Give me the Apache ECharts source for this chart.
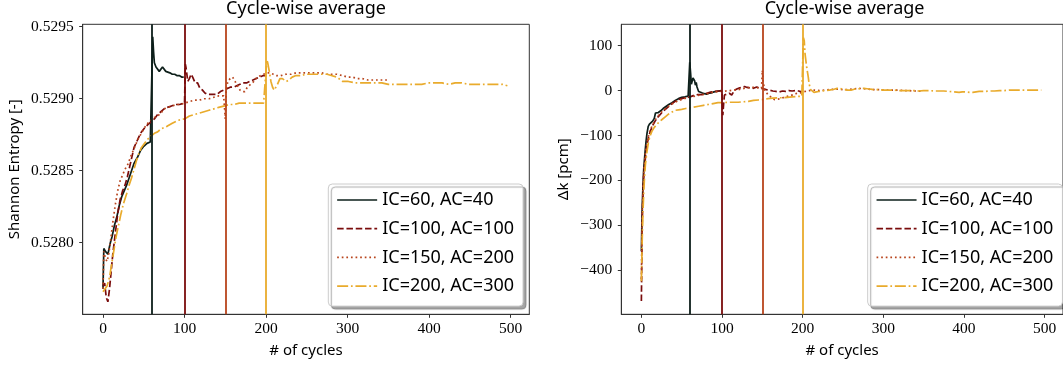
<!DOCTYPE html>
<html><head><meta charset="utf-8">
<script src="https://cdn.jsdelivr.net/npm/echarts@6/dist/echarts.min.js"></script>
<style>html,body{margin:0;padding:0;background:#fff}#c{width:1063px;height:368px}</style>
</head><body><div id="c"></div>
<script>
// ---- data ----
const seriesNames = ['IC=60, AC=40','IC=100, AC=100','IC=150, AC=200','IC=200, AC=300'];
const inactiveCycles = [60, 100, 150, 200];
const xTicks = [0, 100, 200, 300, 400, 500];
const entropyTicks = [0.5280, 0.5285, 0.5290, 0.5295];
const dkTicks = [-400, -300, -200, -100, 0, 100];

const entropy_IC60 = [[0,0.52768],[1,0.52796],[3,0.52794],[6,0.52792],[9,0.52800],[11,0.52804],[14,0.52812],[17,0.52818],[20,0.52826],[23,0.52832],[26,0.52836],[29,0.52840],[32,0.52845],[35,0.52850],[38,0.52855],[42,0.52859],[46,0.52864],[50,0.52867],[54,0.52869],[58,0.52870],[60,0.52871],[61,0.52943],[62,0.52933],[63,0.52925],[65,0.52922],[67,0.52921],[69,0.52919],[71,0.52920],[73,0.52922],[75,0.52921],[77,0.52919],[79,0.52918],[82,0.52918],[85,0.52917],[88,0.52917],[91,0.52916],[94,0.52916],[97,0.52915],[99,0.52915]];
const entropy_IC100 = [[0,0.52770],[2,0.52772],[4,0.52762],[6,0.52759],[8,0.52768],[10,0.52780],[12,0.52792],[15,0.52806],[18,0.52820],[21,0.52830],[24,0.52836],[27,0.52840],[30,0.52846],[34,0.52856],[38,0.52866],[42,0.52871],[46,0.52876],[50,0.52879],[55,0.52882],[59,0.52884],[63,0.52886],[67,0.52889],[71,0.52891],[75,0.52893],[79,0.52894],[84,0.52895],[89,0.52896],[94,0.52896],[100,0.52897],[101,0.52924],[102,0.52921],[104,0.52912],[106,0.52914],[108,0.52917],[110,0.52915],[113,0.52911],[116,0.52911],[119,0.52907],[122,0.52906],[125,0.52904],[128,0.52903],[132,0.52903],[136,0.52903],[140,0.52903],[144,0.52905],[148,0.52906],[152,0.52907],[156,0.52908],[160,0.52908],[164,0.52909],[168,0.52910],[172,0.52911],[176,0.52911],[180,0.52912],[184,0.52913],[188,0.52914],[192,0.52915],[196,0.52916],[199,0.52916]];
const entropy_IC150 = [[0,0.52768],[1,0.52794],[3,0.52789],[5,0.52787],[7,0.52792],[9,0.52800],[12,0.52814],[15,0.52826],[18,0.52836],[21,0.52843],[24,0.52847],[27,0.52851],[31,0.52855],[34,0.52860],[37,0.52864],[40,0.52868],[43,0.52872],[47,0.52876],[51,0.52880],[55,0.52883],[59,0.52885],[63,0.52887],[67,0.52888],[71,0.52890],[75,0.52893],[80,0.52894],[85,0.52895],[90,0.52896],[95,0.52896],[100,0.52897],[106,0.52898],[112,0.52899],[118,0.52899],[124,0.52900],[130,0.52900],[136,0.52901],[142,0.52902],[148,0.52902],[150,0.52886],[151,0.52905],[153,0.52912],[156,0.52914],[159,0.52915],[162,0.52912],[165,0.52909],[168,0.52906],[171,0.52905],[174,0.52905],[177,0.52908],[181,0.52910],[185,0.52912],[189,0.52915],[193,0.52916],[197,0.52917],[201,0.52918],[205,0.52918],[209,0.52917],[213,0.52916],[218,0.52916],[224,0.52917],[231,0.52917],[237,0.52918],[244,0.52918],[250,0.52918],[256,0.52918],[262,0.52918],[268,0.52918],[274,0.52917],[281,0.52917],[287,0.52917],[294,0.52916],[300,0.52915],[306,0.52915],[312,0.52914],[318,0.52914],[325,0.52913],[331,0.52913],[338,0.52913],[344,0.52913],[349,0.52913]];
const entropy_IC200 = [[0,0.52766],[2,0.52767],[5,0.52770],[8,0.52776],[10,0.52783],[12,0.52790],[14,0.52797],[16,0.52804],[19,0.52812],[22,0.52820],[25,0.52827],[29,0.52834],[32,0.52840],[35,0.52845],[38,0.52851],[41,0.52857],[44,0.52862],[47,0.52866],[51,0.52869],[55,0.52872],[59,0.52874],[63,0.52876],[67,0.52877],[71,0.52879],[75,0.52880],[79,0.52881],[85,0.52883],[92,0.52885],[100,0.52886],[106,0.52888],[112,0.52889],[118,0.52890],[124,0.52891],[130,0.52892],[136,0.52893],[142,0.52894],[149,0.52895],[155,0.52896],[161,0.52896],[167,0.52897],[173,0.52897],[179,0.52897],[185,0.52897],[191,0.52897],[197,0.52897],[199,0.52897],[200,0.52920],[201,0.52927],[202,0.52925],[204,0.52919],[206,0.52912],[208,0.52908],[210,0.52906],[212,0.52907],[214,0.52910],[217,0.52914],[220,0.52914],[222,0.52913],[225,0.52912],[228,0.52913],[232,0.52915],[236,0.52916],[240,0.52916],[244,0.52916],[248,0.52917],[252,0.52917],[256,0.52917],[262,0.52917],[268,0.52917],[275,0.52917],[281,0.52916],[287,0.52915],[294,0.52912],[301,0.52912],[309,0.52911],[317,0.52911],[325,0.52911],[334,0.52911],[342,0.52911],[350,0.52910],[358,0.52910],[366,0.52910],[375,0.52910],[383,0.52910],[391,0.52910],[399,0.52911],[408,0.52911],[416,0.52911],[424,0.52910],[432,0.52911],[440,0.52911],[449,0.52910],[457,0.52910],[465,0.52910],[473,0.52910],[481,0.52910],[490,0.52910],[496,0.52909]];

const dk_IC60 = [[0,-358],[1,-261],[2,-210],[3,-172],[4,-150],[5,-128],[6,-110],[7,-95],[8.5,-80],[10,-75],[12,-72],[14,-68],[16,-62],[17.5,-50],[19,-53],[21,-49],[24,-45],[27,-40],[30,-36],[34,-31],[38,-27],[42,-22],[46,-18],[50,-15],[54,-14],[58,-12],[59.5,-11],[60,63],[61,40],[62,14],[63,18],[64,28],[65,32],[66,22],[67,12],[68,18],[69,8],[71,-2],[73,-4],[75,-5],[78,-7],[81,-8],[84,-6],[87,-5],[90,-3],[93,-2],[96,-1],[99,0]];
const dk_IC100 = [[0,-469],[1,-298],[2,-230],[3,-187],[5,-150],[7,-120],[9,-103],[11,-91],[14,-78],[17,-68],[21,-58],[25,-50],[29,-43],[34,-35],[38,-29],[42,-24],[46,-20],[50,-18],[54,-16],[58,-15],[62,-13],[66,-10],[70,-9],[75,-9],[79,-7],[83,-5],[87,-3],[91,-2],[95,-1],[99,-1],[100,-8],[101,-55],[102,-30],[103,-10],[106,-8],[109,-6],[112,-10],[114,-4],[116,1],[119,4],[122,6],[125,8],[128,9],[131,7],[135,6],[139,5],[143,8],[147,5],[151,4],[155,2],[159,1],[163,-1],[167,-2],[171,-3],[175,-1],[179,-2],[183,0],[187,-1],[191,0],[195,-1],[199,-3]];
const dk_IC150 = [[0,-420],[1,-280],[2,-220],[3,-180],[5,-140],[7,-115],[9,-100],[11,-88],[14,-76],[17,-66],[21,-56],[25,-48],[30,-40],[35,-33],[40,-28],[45,-23],[50,-20],[55,-17],[60,-15],[65,-13],[70,-11],[75,-9],[80,-8],[85,-5],[90,-4],[95,-2],[100,-2],[105,-1],[110,0],[115,1],[120,2],[125,4],[130,6],[135,7],[140,7],[145,6],[149,5],[150,45],[151,20],[153,0],[157,-9],[161,-15],[165,-20],[169,-19],[173,-18],[177,-15],[181,-13],[185,-11],[189,-9],[193,-6],[197,-5],[201,-3],[205,-1],[209,0],[215,1],[221,0],[227,1],[233,2],[239,3],[245,3],[251,2],[257,2],[264,4],[270,5],[276,4],[282,3],[288,2],[295,2],[301,1],[307,1],[313,1],[319,1],[325,0],[331,0],[337,-1],[343,-1],[349,-2]];
const dk_IC200 = [[0,-425],[1,-335],[2,-270],[3,-224],[4,-190],[5,-165],[7,-135],[9,-113],[11,-100],[13,-91],[16,-82],[19,-76],[22,-70],[26,-64],[30,-58],[34,-52],[38,-48],[42,-44],[46,-43],[50,-42],[55,-40],[59,-39],[65,-37],[71,-35],[77,-33],[83,-31],[89,-29],[95,-27],[101,-27],[108,-26],[114,-26],[120,-26],[126,-25],[133,-24],[139,-22],[145,-21],[151,-20],[157,-18],[163,-17],[169,-16],[175,-16],[181,-15],[187,-14],[194,-13],[199,-13],[200,60],[201,118],[202,111],[203,82],[205,52],[207,30],[208,15],[210,2],[212,-2],[214,-4],[217,-3],[220,-2],[224,-1],[228,0],[233,1],[239,3],[245,6],[248,4],[252,2],[256,1],[260,1],[264,3],[268,3],[272,5],[276,5],[280,4],[284,3],[290,2],[295,2],[301,1],[307,1],[313,1],[319,0],[325,0],[332,0],[338,0],[344,-1],[350,0],[357,0],[363,-1],[369,-1],[375,-1],[382,-2],[388,-3],[394,-4],[398,-3],[402,-3],[407,-4],[411,-4],[415,-3],[419,-2],[425,-2],[432,-1],[438,-1],[444,0],[450,0],[456,1],[463,1],[469,1],[475,1],[481,1],[487,1],[494,1],[496,1]];

const entropyData = [entropy_IC60, entropy_IC100, entropy_IC150, entropy_IC200];
const dkData = [dk_IC60, dk_IC100, dk_IC150, dk_IC200];

// ---- styles ----
const colors = ['#0d1f1a', '#7a0c0c', '#b8441c', '#e9ab2c'];
const dashes = ['solid', [6.5, 2.8], [1.7, 2.9], [11, 2.8, 1.7, 2.8]];
const SANS = 'Noto Sans';
const SERIF = 'Liberation Serif';
const AX = '#333';

const chart = echarts.init(document.getElementById('c'), null, {renderer: 'canvas'});

function xAxisOpt(gi) {
  return {
    type: 'value', gridIndex: gi, min: -24.9, max: 522.9,
    name: '# of cycles', nameLocation: 'middle', nameGap: 29,
    nameTextStyle: {fontFamily: SANS, fontSize: 15, color: '#000'},
    axisLine: {show: true, onZero: false, lineStyle: {color: AX, width: 1}},
    axisTick: {show: true, length: 3.5, customValues: xTicks, lineStyle: {color: AX}},
    axisLabel: {customValues: xTicks, fontFamily: SERIF, fontSize: 15.5, color: '#000', margin: 7},
    splitLine: {show: false}
  };
}
function yAxisOpt(gi, min, max, ticks, name, gap, fmt) {
  return {
    type: 'value', gridIndex: gi, min: min, max: max,
    name: name, nameLocation: 'middle', nameGap: gap,
    nameTextStyle: {fontFamily: SANS, fontSize: 15, color: '#000'},
    axisLine: {show: true, onZero: false, lineStyle: {color: AX, width: 1}},
    axisTick: {show: true, length: 3.5, customValues: ticks, lineStyle: {color: AX}},
    axisLabel: {customValues: ticks, fontFamily: SERIF, fontSize: 15.5, color: '#000', margin: 9, formatter: fmt},
    splitLine: {show: false}
  };
}
function mkSeries(dataSets, xi, yi) {
  return dataSets.map((d, i) => ({
    name: seriesNames[i], type: 'line', xAxisIndex: xi, yAxisIndex: yi,
    data: d, symbol: 'none', showSymbol: false, clip: true,
    lineStyle: {color: colors[i], width: 1.7, type: dashes[i]},
    itemStyle: {color: colors[i]},
    markLine: {
      silent: true, symbol: ['none', 'none'], label: {show: false},
      lineStyle: {color: colors[i], width: 1.8, type: 'solid'},
      emphasis: {disabled: true},
      data: [{xAxis: inactiveCycles[i]}]
    }
  }));
}
function legendOpt(left) {
  return {
    left: left, top: 184, orient: 'vertical',
    data: seriesNames,
    itemWidth: 40, itemHeight: 18, itemGap: 10.7,
    padding: [7, 9, 11, 8],
    backgroundColor: '#fff', borderColor: '#cccccc', borderWidth: 1, borderRadius: 4,
    shadowColor: 'rgba(0,0,0,0.35)', shadowBlur: 1, shadowOffsetX: 3, shadowOffsetY: 3,
    textStyle: {fontFamily: SANS, fontSize: 18, color: '#000', lineHeight: 18},
    itemStyle: {opacity: 0, borderWidth: 0},
    lineStyle: {width: 1.7},
    selectedMode: false,
    inactiveColor: '#ccc'
  };
}

const option = {
  animation: false,
  backgroundColor: '#fff',
  title: [
    {text: 'Cycle-wise average', left: 306, top: 0, textAlign: 'center', padding: 0,
     textStyle: {fontFamily: SANS, fontSize: 18, fontWeight: 'normal', color: '#000'}},
    {text: 'Cycle-wise average', left: 844.6, top: 0, textAlign: 'center', padding: 0,
     textStyle: {fontFamily: SANS, fontSize: 18, fontWeight: 'normal', color: '#000'}}
  ],
  grid: [
    {left: 82.7, top: 24.3, width: 446.6, height: 290, show: true, borderColor: AX, borderWidth: 1, backgroundColor: 'transparent', containLabel: false},
    {left: 621.3, top: 24.3, width: 446.6, height: 290, show: true, borderColor: AX, borderWidth: 1, backgroundColor: 'transparent', containLabel: false}
  ],
  xAxis: [xAxisOpt(0), xAxisOpt(1)],
  yAxis: [
    yAxisOpt(0, 0.527503, 0.529517, entropyTicks, 'Shannon Entropy [-]', 60, v => v.toFixed(4)),
    yAxisOpt(1, -498.7, 147.7, dkTicks, 'Δk [pcm]', 50, v => (v < 0 ? '\u2212' + Math.abs(v) : String(v)))
  ],
  legend: [legendOpt(328.3), legendOpt(867.7)],
  series: [].concat(mkSeries(entropyData, 0, 0), mkSeries(dkData, 1, 1))
};
chart.setOption(option);
</script>
</body></html>
